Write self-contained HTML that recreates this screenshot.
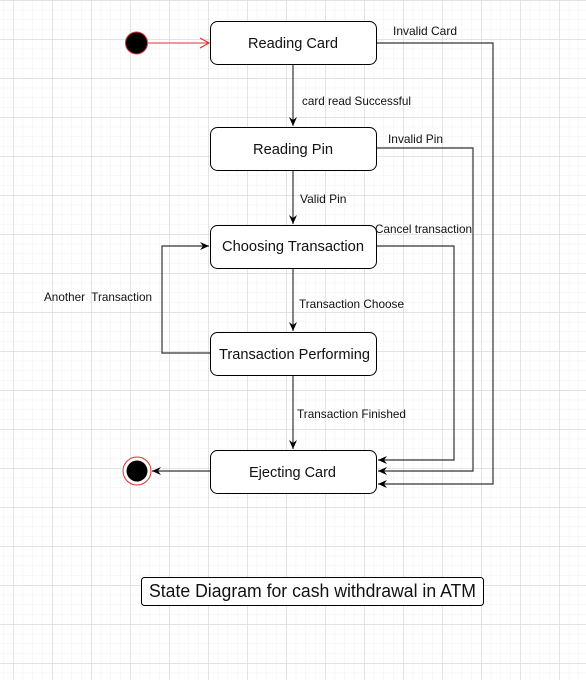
<!DOCTYPE html>
<html><head><meta charset="utf-8"><style>
html,body{margin:0;padding:0;background:#fff;}
svg{display:block;font-family:"Liberation Sans",Arial,sans-serif;}
</style></head><body>
<svg width="586" height="680" viewBox="0 0 586 680" xmlns="http://www.w3.org/2000/svg">
<defs>
<pattern id="minor" x="3.25" y="0" width="9.75" height="9.75" patternUnits="userSpaceOnUse">
<path d="M0 0H9.75M0 0V9.75" stroke="#f0f0f0" stroke-width="1" fill="none"/>
</pattern>
<pattern id="major" x="13.5" y="0.5" width="39" height="39" patternUnits="userSpaceOnUse">
<path d="M0 0H39M0 0V39" stroke="#d6d6d6" stroke-width="1" fill="none"/>
</pattern>
<marker id="a" markerWidth="10" markerHeight="10" refX="9" refY="5" orient="auto" markerUnits="userSpaceOnUse">
<path d="M0,1 L9,5 L0,9 L3,5 Z" fill="#000"/>
</marker>
<marker id="r" markerWidth="12" markerHeight="12" refX="10" refY="6" orient="auto" markerUnits="userSpaceOnUse">
<path d="M1,1 L10,6 L1,11" fill="none" stroke="#d33" stroke-width="1.2"/>
</marker>
</defs>
<rect width="586" height="680" fill="url(#minor)"/>
<rect width="586" height="680" fill="url(#major)"/>

<g stroke="#000" stroke-width="1" fill="#fff">
<rect x="210.5" y="21.5" width="166" height="43" rx="7"/>
<rect x="210.5" y="127.5" width="166" height="43" rx="7"/>
<rect x="210.5" y="225.5" width="166" height="43" rx="7"/>
<rect x="210.5" y="332.5" width="166" height="43" rx="7"/>
<rect x="210.5" y="450.5" width="166" height="43" rx="7"/>
<rect x="141.5" y="577.5" width="342" height="28" rx="3"/>
</g>
<g font-size="14.5" fill="#111">
<text x="248" y="48" textLength="90" lengthAdjust="spacingAndGlyphs">Reading Card</text>
<text x="253" y="154" textLength="80" lengthAdjust="spacingAndGlyphs">Reading Pin</text>
<text x="222" y="251" textLength="142" lengthAdjust="spacingAndGlyphs">Choosing Transaction</text>
<text x="219" y="359" textLength="151" lengthAdjust="spacingAndGlyphs">Transaction Performing</text>
<text x="249" y="477" textLength="87" lengthAdjust="spacingAndGlyphs">Ejecting Card</text>
<text x="149" y="597" font-size="18" textLength="327" lengthAdjust="spacingAndGlyphs">State Diagram for cash withdrawal in ATM</text>
</g>

<circle cx="136.5" cy="43" r="11" fill="#000" stroke="#d33" stroke-width="1"/>
<line x1="148" y1="43" x2="209" y2="43" stroke="#d33" stroke-width="1" marker-end="url(#r)"/>
<circle cx="137" cy="471" r="14" fill="#fff" stroke="#d33" stroke-width="1"/>
<circle cx="137" cy="471" r="10.5" fill="#000"/>

<g stroke="#333" stroke-width="1.2" fill="none" marker-end="url(#a)">
<line x1="293" y1="65" x2="293" y2="126"/>
<line x1="293" y1="171" x2="293" y2="224"/>
<line x1="293" y1="269" x2="293" y2="331"/>
<line x1="293" y1="376" x2="293" y2="449"/>
<line x1="210" y1="471" x2="152" y2="471"/>
<polyline points="210,353 162,353 162,246 209,246"/>
<polyline points="377,43 493,43 493,484 378,484"/>
<polyline points="377,148 473,148 473,471 378,471"/>
<polyline points="377,246 454,246 454,460 378,460"/>
</g>

<g font-size="12" fill="#111">
<text x="302" y="105" textLength="109" lengthAdjust="spacingAndGlyphs">card read Successful</text>
<text x="300" y="203">Valid Pin</text>
<text x="299" y="308" textLength="105" lengthAdjust="spacingAndGlyphs">Transaction Choose</text>
<text x="297" y="418" textLength="109" lengthAdjust="spacingAndGlyphs">Transaction Finished</text>
<text x="393" y="35" textLength="64" lengthAdjust="spacingAndGlyphs">Invalid Card</text>
<text x="388" y="143" textLength="55" lengthAdjust="spacingAndGlyphs">Invalid Pin</text>
<text x="375" y="233" textLength="97" lengthAdjust="spacingAndGlyphs">Cancel transaction</text>
<text x="44" y="301" xml:space="preserve" textLength="108" lengthAdjust="spacingAndGlyphs">Another  Transaction</text>
</g>
</svg>
</body></html>
